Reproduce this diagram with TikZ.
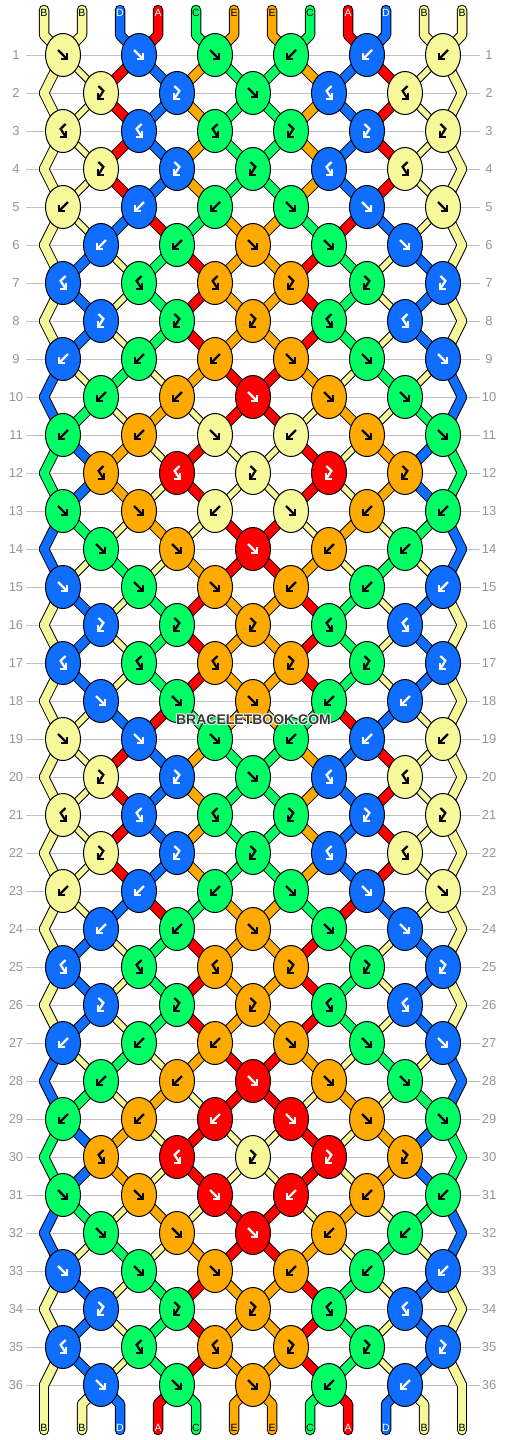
\documentclass[tikz,border=0pt]{standalone}
\usepackage{fontspec}
\setmainfont{Liberation Sans}
\usetikzlibrary{shapes.geometric}
\definecolor{colB}{RGB}{246,248,154}
\definecolor{colD}{RGB}{15,110,255}
\definecolor{colA}{RGB}{255,0,0}
\definecolor{colC}{RGB}{0,255,100}
\definecolor{colE}{RGB}{255,170,0}
\colorlet{txtB}{black}\colorlet{txtD}{white}\colorlet{txtA}{white}\colorlet{txtC}{black}\colorlet{txtE}{black}
\definecolor{rowgray}{RGB}{192,192,192}
\definecolor{labgray}{RGB}{150,150,150}
\definecolor{wmgray}{RGB}{58,58,58}
\pgfdeclarelayer{rowlayer}\pgfdeclarelayer{outl}\pgfdeclarelayer{fil}\pgfdeclarelayer{toplayer}
\pgfsetlayers{rowlayer,outl,fil,main,toplayer}
\newcommand\defrow[2]{\expandafter\def\csname kr#1\endcsname{#2}}
\newcommand\defstate[2]{\expandafter\def\csname st#1\endcsname{#2}}
\defstate{0}{B,B,D,A,C,E,E,C,A,D,B,B}
\defstate{1}{B,B,A,D,E,C,C,E,D,A,B,B}
\defstate{6}{B,D,B,C,A,E,E,A,C,B,D,B}
\defstate{9}{D,B,C,B,E,A,A,E,B,C,B,D}
\defstate{10}{D,C,B,E,B,A,A,B,E,B,C,D}
\defstate{11}{C,D,E,B,A,B,B,A,B,E,D,C}
\defrow{1}{B/F,D/F,C/F,C/B,D/B,B/B}
\defrow{2}{B/FB,D/FB,C/F,D/BF,B/BF}
\defrow{3}{B/BF,D/BF,C/BF,C/FB,D/FB,B/FB}
\defrow{4}{B/FB,D/FB,C/FB,D/BF,B/BF}
\defrow{5}{B/B,D/B,C/B,C/F,D/F,B/F}
\defrow{6}{D/B,C/B,E/F,C/F,D/F}
\defrow{7}{D/BF,C/BF,E/BF,E/FB,C/FB,D/FB}
\defrow{8}{D/FB,C/FB,E/FB,C/BF,D/BF}
\defrow{9}{D/B,C/B,E/B,E/F,C/F,D/F}
\defrow{10}{C/B,E/B,A/F,E/F,C/F}
\defrow{11}{C/B,E/B,B/F,B/B,E/F,C/F}
\defrow{12}{E/BF,A/BF,B/FB,A/FB,E/FB}
\defrow{13}{C/F,E/F,B/B,B/F,E/B,C/B}
\defrow{14}{C/F,E/F,A/F,E/B,C/B}
\defrow{15}{D/F,C/F,E/F,E/B,C/B,D/B}
\defrow{16}{D/FB,C/FB,E/FB,C/BF,D/BF}
\defrow{17}{D/BF,C/BF,E/BF,E/FB,C/FB,D/FB}
\defrow{18}{D/F,C/F,E/F,C/B,D/B}
\defrow{29}{C/B,E/B,A/B,A/F,E/F,C/F}
\defrow{31}{C/F,E/F,A/F,A/B,E/B,C/B}
\newcommand\setpn[3]{%
  \pgfmathtruncatemacro\tmpodd{mod(#2,2)}%
  \ifnum\tmpodd=1\relax
    \pgfmathtruncatemacro\tmpj{#3/2}%
    \edef#1{k-#2-\tmpj}%
  \else
    \ifnum#3=0\relax
      \edef#1{eL-#2}%
    \else
      \ifnum#3=11\relax
        \edef#1{eR-#2}%
      \else
        \pgfmathtruncatemacro\tmpj{(#3-1)/2}%
        \edef#1{k-#2-\tmpj}%
      \fi
    \fi
  \fi}
\tikzset{
  knot/.style={ellipse, draw=black, line width=1pt, fill=col#1, minimum width=35pt, minimum height=43pt, inner sep=0pt},
  strout/.style={draw=black, line width=10.5pt, line cap=round, line join=round},
  strfill/.style={draw=col#1, line width=8.5pt, line cap=round, line join=round},
  curthin/.style={},
  rowline/.style={draw=rowgray, line width=1pt},
  rowlab/.style={text=labgray, font=\fontsize{13}{13}\selectfont, inner sep=0pt},
  strlab/.style={text=txt#1, font=\fontsize{10.5}{10.5}\selectfont, inner sep=0pt},
  wm/.style={font=\bfseries\fontsize{14}{14}\selectfont, inner sep=0pt},
  arw/.style={line width=2.2pt},
}
\newcommand\arF{\draw[arw] (-5,-5)--(3.6,3.6); \draw[arw] (-2,4.3)--(4.3,4.3)--(4.3,-2);}
\newcommand\arB{\draw[arw] (5,-5)--(-3.6,3.6); \draw[arw] (2,4.3)--(-4.3,4.3)--(-4.3,-2);}
\newcommand\arFB{\draw[arw] (-2.6,-7)--(2.4,-2.2)--(-2.3,5.2); \draw[arw] (-2.8,0.3)--(-2.8,5.9)--(2.8,5.9);}
\newcommand\arBF{\draw[arw] (2.6,-7)--(-2.4,-2.2)--(2.3,5.2); \draw[arw] (2.8,0.3)--(2.8,5.9)--(-2.8,5.9);}
% all strands drawn with style #1 (strout or strfill); #2 = width of thin light strands
\newcommand\drawstrands[2]{%
  \foreach \rw/\sx in {2/1,3/1,4/1,5/1,6/0,7/6,8/6,9/6,10/9,11/10,12/11,13/11,14/10,15/9,16/6,17/6,18/6,19/0,20/1,21/1,22/1,23/1,24/0,25/6,26/6,27/6,28/9,29/10,30/11,31/11,32/10,33/9,34/6,35/6,36/6}{
    \pgfmathtruncatemacro\rp{\rw-1}
    \edef\slist{\csname st\sx\endcsname}
    \foreach \cl [count=\ix from 0] in \slist {
      \setpn\pa{\rp}{\ix}
      \setpn\pb{\rw}{\ix}
      \ifnum\ix>0 \ifnum\ix<11 \if B\cl \tikzset{curthin/.style={line width=#2}}\fi\fi\fi
      \draw[#1=\cl, curthin] (\pa.center) -- (\pb.center);
    }
  }
  \edef\slist{\csname st0\endcsname}
  \foreach \cl [count=\ix from 0] in \slist {
    \pgfmathtruncatemacro\jx{\ix/2}
    \setpn\pa{36}{\ix}
    \draw[#1=\cl] (ts-\ix) -- (tb-\ix) -- (k-1-\jx.center);
    \draw[#1=\cl] (\pa.center) -- (bb-\ix) -- (be-\ix);
  }
}
\begin{document}
\begin{tikzpicture}[x=1pt,y=-1pt]
\useasboundingbox (0,0) rectangle (506,1440);
\begin{pgfonlayer}{rowlayer}
\fill[white] (0,0) rectangle (506,1440);
\foreach \rw in {1,...,36}{
  \pgfmathtruncatemacro\yy{55+38*(\rw-1)}
  \draw[rowline] (26,\yy) -- (480,\yy);
}
\end{pgfonlayer}
% row numbers
\foreach \rw in {1,...,36}{
  \pgfmathtruncatemacro\yy{55+38*(\rw-1)}
  \node[rowlab] (ln-\rw) at (16,\yy) {\rw};
  \node[rowlab] (rn-\rw) at (489,\yy) {\rw};
}
% knots
\foreach \rw in {1,...,36}{
  \pgfmathtruncatemacro\rk{\rw>18 ? \rw-18 : \rw}
  \ifnum\rw=29 \def\rk{29}\fi
  \ifnum\rw=31 \def\rk{31}\fi
  \pgfmathtruncatemacro\isodd{mod(\rw,2)}
  \pgfmathtruncatemacro\yy{55+38*(\rw-1)}
  \pgfmathtruncatemacro\xo{\isodd==1 ? 63 : 101}
  \edef\klist{\csname kr\rk\endcsname}
  \foreach \cl/\tp [count=\jx from 0] in \klist {
    \pgfmathtruncatemacro\xk{\xo+76*\jx}
    \node[knot=\cl] (k-\rw-\jx) at (\xk,\yy) {};
    \begin{scope}[shift={(\xk,\yy)}, color=txt\cl]
      \csname ar\tp\endcsname
    \end{scope}
  }
  \ifnum\isodd=0
    \coordinate (eL-\rw) at (44,\yy);
    \coordinate (eR-\rw) at (462,\yy);
  \fi
}
% free ends of the strings, and their labels
\edef\slist{\csname st0\endcsname}
\foreach \cl [count=\ix from 0] in \slist {
  \pgfmathtruncatemacro\xs{44+38*\ix}
  \coordinate (ts-\ix) at (\xs,10);
  \coordinate (tb-\ix) at (\xs,35);
  \coordinate (bb-\ix) at (\xs,1404);
  \coordinate (be-\ix) at (\xs,1430);
  \node[strlab=\cl] (tl-\ix) at (\xs,13) {\cl};
  \node[strlab=\cl] (bl-\ix) at (\xs,1428) {\cl};
}
\begin{pgfonlayer}{outl}
\drawstrands{strout}{7.5pt}
\end{pgfonlayer}
\begin{pgfonlayer}{fil}
\drawstrands{strfill}{5.5pt}
\end{pgfonlayer}
% watermark
\begin{pgfonlayer}{toplayer}
\foreach \dx/\dy [count=\n] in {1/0,-1/0,0/1,0/-1,1/1,-1/-1,1/-1,-1/1}{
  \node[wm, text=white, opacity=0.55] (wh-\n) at (253.5+\dx,720+\dy) {BRACELETBOOK.COM};
}
\node[wm, text=wmgray] (wmark) at (253.5,720) {BRACELETBOOK.COM};
\end{pgfonlayer}
\end{tikzpicture}
\end{document}
